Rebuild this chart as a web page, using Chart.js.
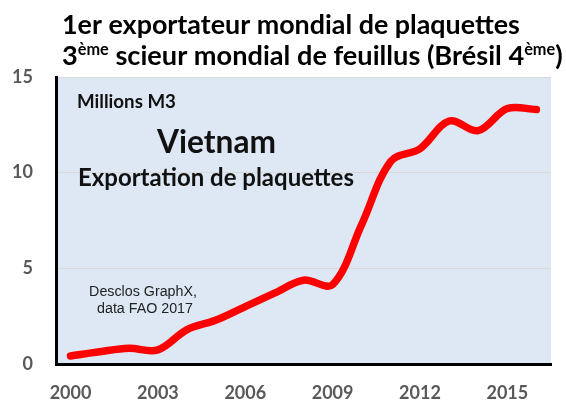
<!DOCTYPE html>
<html>
<head>
<meta charset="utf-8">
<script src="https://cdn.jsdelivr.net/npm/chart.js@4.4.1/dist/chart.umd.min.js"></script>
<style>
  html, body { margin: 0; padding: 0; background: #fff; }
  #wrap { width: 566px; height: 403px; position: relative; }
</style>
</head>
<body>
<div id="wrap"><canvas id="chart"></canvas></div>
<script>
// Vietnam wood chip exports, million m3
const years = ['2000','2001','2002','2003','2004','2005','2006','2007','2008',
               '2009','2010','2011','2012','2013','2014','2015','2016'];
const exportsMm3 = [0.42, 0.64, 0.82, 0.74, 1.80, 2.30, 3.00, 3.70, 4.38,
                    4.15, 7.30, 10.60, 11.25, 12.70, 12.20, 13.35, 13.30];
const shownYears = ['2000','2003','2006','2009','2012','2015'];
const yMin = 0, yMax = 15, yStep = 5;

const titleLine1 = [['1er exportateur mondial de plaquettes', false]];
const titleLine2 = [['3', false], ['ème', true], [' scieur mondial de feuillus (Brésil 4', false], ['ème', true], [')', false]];
const unitLabel = 'Millions M3';
const countryLabel = 'Vietnam';
const seriesLabel = 'Exportation de plaquettes';
const sourceLines = ['Desclos GraphX,', 'data FAO 2017'];

const CAL = 'Lato, "Open Sans", sans-serif';
const ARIAL = '"Liberation Sans", Arial, sans-serif';

// size a font so a string spans a given width
function fitSize(ctx, runs, weight, family, width) {
    let w = 0;
    runs.forEach(([t, sup]) => {
        ctx.font = `${weight} ${sup ? 60 : 100}px ${family}`;
        w += ctx.measureText(t).width;
    });
    return 100 * width / w;
}

function drawRuns(ctx, runs, x, y, size, weight, family) {
    ctx.textAlign = 'left';
    ctx.textBaseline = 'alphabetic';
    runs.forEach(([t, sup]) => {
        const s = sup ? size * 0.6 : size;
        ctx.font = `${weight} ${s}px ${family}`;
        ctx.fillText(t, x, sup ? y - size * 0.38 : y);
        x += ctx.measureText(t).width;
    });
}

const plotBg = {
    id: 'plotBg',
    beforeDraw(chart) {
        const { ctx, chartArea: a } = chart;
        ctx.save();
        ctx.fillStyle = '#dde8f4';
        ctx.fillRect(a.left, a.top, a.right - a.left, a.bottom - a.top);
        ctx.restore();
    }
};

const texts = {
    id: 'texts',
    beforeDatasetsDraw(chart) {
        const { ctx } = chart;
        ctx.save();
        ctx.fillStyle = '#111';
        let s = fitSize(ctx, [[unitLabel]], 'bold', CAL, 99);
        drawRuns(ctx, [[unitLabel, false]], 77, 108, s, 'bold', CAL);
        s = fitSize(ctx, [[countryLabel]], 'bold', CAL, 119);
        drawRuns(ctx, [[countryLabel, false]], 157, 153, s, 'bold', CAL);
        s = fitSize(ctx, [[seriesLabel]], 'bold', CAL, 276);
        drawRuns(ctx, [[seriesLabel, false]], 78, 186, s, 'bold', CAL);

        ctx.fillStyle = '#222';
        ctx.textAlign = 'center';
        ctx.textBaseline = 'middle';
        s = fitSize(ctx, [[sourceLines[0]]], 'normal', ARIAL, 108);
        ctx.font = `normal ${s}px ${ARIAL}`;
        ctx.fillText(sourceLines[0], 143, 292);
        ctx.fillText(sourceLines[1], 145, 309);
        ctx.restore();
    },
    afterDraw(chart) {
        const { ctx } = chart;
        ctx.save();
        ctx.fillStyle = '#000';
        let s = fitSize(ctx, titleLine1, 'bold', CAL, 458);
        drawRuns(ctx, titleLine1, 62, 34, s, 'bold', CAL);
        s = fitSize(ctx, titleLine2, 'bold', CAL, 501);
        drawRuns(ctx, titleLine2, 62, 65, s, 'bold', CAL);
        ctx.restore();
    }
};

new Chart(document.getElementById('chart'), {
    type: 'line',
    data: {
        labels: years,
        datasets: [{
            label: seriesLabel,
            data: exportsMm3,
            borderColor: '#ff0000',
            borderWidth: 7.5,
            borderCapStyle: 'round',
            borderJoinStyle: 'round',
            pointRadius: 0,
            tension: 0.35,
            fill: false
        }]
    },
    options: {
        responsive: true,
        maintainAspectRatio: false,
        animation: false,
        layout: { padding: { top: 77, right: 15, left: 0, bottom: 0 } },
        plugins: { legend: { display: false }, tooltip: { enabled: false } },
        scales: {
            x: {
                offset: true,
                grid: { display: false, drawTicks: false },
                border: { display: true, color: '#000', width: 3 },
                afterFit(scale) { scale.height = 39; },
                ticks: {
                    autoSkip: false,
                    maxRotation: 0,
                    padding: 18,
                    color: '#595959',
                    font: { family: CAL, size: 18, weight: 'bold' },
                    callback(v) {
                        const y = this.getLabelForValue(v);
                        return shownYears.includes(y) ? y : '';
                    }
                }
            },
            y: {
                min: yMin,
                max: yMax,
                grid: { color: '#d9d9d9', lineWidth: 1, drawTicks: false },
                border: { display: true, color: '#000', width: 3 },
                afterFit(scale) { scale.width = 56; },
                ticks: {
                    stepSize: yStep,
                    padding: 23,
                    color: '#595959',
                    font: { family: CAL, size: 18, weight: 'bold' }
                }
            }
        }
    },
    plugins: [plotBg, texts]
});
</script>
</body>
</html>
